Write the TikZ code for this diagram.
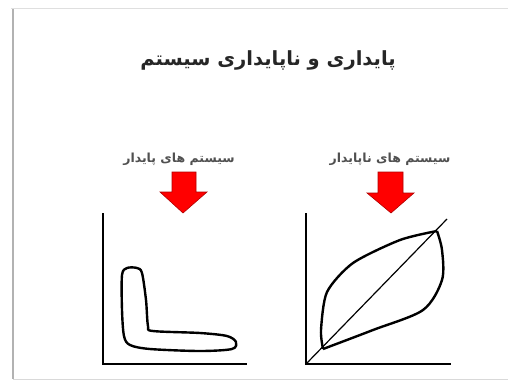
\documentclass[tikz,border=0pt]{standalone}
\usepackage{fontspec}
\newfontfamily\farsi[Script=Arabic]{DejaVu Sans}
\TeXXeTstate=1
\definecolor{arrowred}{HTML}{FF0000}
\definecolor{arrowedge}{HTML}{B00000}
\definecolor{labelgray}{HTML}{505050}
\begin{document}
\begin{tikzpicture}[x=1pt,y=-1pt,
  axis/.style={line width=1.8pt,black},
  curve/.style={line width=2.4pt,black,line join=round},
  bigarrow/.style={fill=arrowred,draw=arrowedge,line width=0.6pt,line join=miter},
  label/.style={font=\farsi\bfseries\fontsize{12.5}{14}\selectfont,text=labelgray,inner sep=0pt},
  title/.style={font=\farsi\bfseries\fontsize{19.5}{22}\selectfont,text=black!85,inner sep=0pt}]
\useasboundingbox (0,0) rectangle (508,381);
% slide frame
\draw[line width=2pt,gray!60] (13,9) -- (13,379);
\draw[line width=1pt,gray!25] (11,8) -- (508,8);
\draw[line width=1pt,gray!30] (13,379) -- (508,379);
% title
\node[title] (title) at (268,60) {\beginR پایداری و ناپایداری سیستم\endR};
% labels
\node[label] (lstable) at (179,159) {\beginR سیستم های پایدار\endR};
\node[label] (lunstable) at (390,159) {\beginR سیستم های ناپایدار\endR};
% arrows
\draw[bigarrow] (172,172) -- (196,172) -- (196,192) -- (207,192) -- (183,213) -- (160,192) -- (172,192) -- cycle;
\draw[bigarrow] (378,172) -- (403,172) -- (403,193) -- (414,193) -- (391,213) -- (367,193) -- (378,193) -- cycle;
% left axes
\coordinate (lo) at (103,364);
\coordinate (ly) at (103,213);
\coordinate (lx) at (247,364);
\draw[axis] (ly) -- (lo) -- (lx);
% left curve
\draw[curve] plot[smooth cycle,tension=0.5] coordinates {
 (122,275) (127,268) (137,268) (142,273) (146,300) (148,326) (153,331)
 (200,333) (227,336) (236,342) (232,349) (200,351) (150,349) (130,345) (124,336) (122,310)};
% right axes
\coordinate (ro) at (306,364);
\coordinate (ry) at (306,213);
\coordinate (rx) at (451,364);
\coordinate (rd) at (447,219);
\draw[axis] (ry) -- (ro) -- (rx);
\draw[line width=1.2pt] (ro) -- (rd);
% right curve
\draw[curve] plot[smooth,tension=0.45] coordinates {
 (323,349) (321,330) (327,292) (353,263) (400,240) (437,231)};
\draw[curve] plot[smooth,tension=0.5] coordinates {
 (437,231) (442,250) (442,280) (423,310) (373,330) (323,349)};
\end{tikzpicture}
\end{document}
